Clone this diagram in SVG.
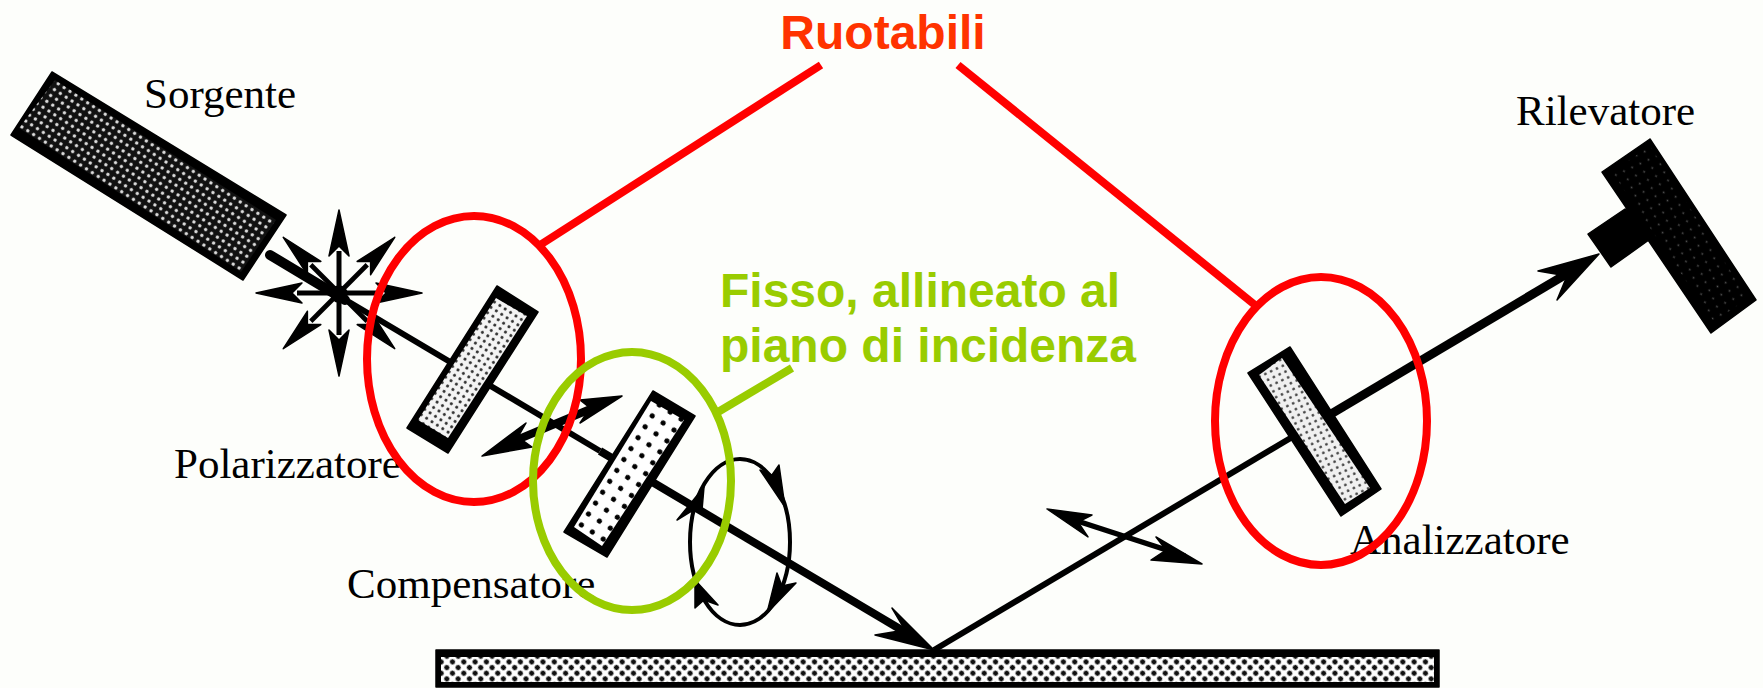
<svg xmlns="http://www.w3.org/2000/svg" width="1763" height="688" viewBox="0 0 1763 688">
<style>
.lbl{font-family:"Liberation Serif","Times New Roman",serif;font-size:43px;fill:#000}
.note{font-family:"Liberation Sans",Arial,sans-serif;font-size:48px;font-weight:bold}
.ring{fill:none;stroke-width:8}
.red{stroke:#ff0000}
.grn{stroke:#99cc00}
.beam{stroke:#000;fill:none}
.k{fill:#000;stroke:#000;stroke-width:1.5;stroke-linejoin:round}
</style>
<defs>
<pattern id="pSrc" width="7" height="7" patternUnits="userSpaceOnUse" patternTransform="rotate(33)"><rect width="7" height="7" fill="#111"/><circle cx="3.5" cy="3.5" r="1.7" fill="#ddd"/></pattern>
<pattern id="pLight" width="6.4" height="6.4" patternUnits="userSpaceOnUse" patternTransform="rotate(33)"><rect width="6.4" height="6.4" fill="#f4f4f4"/><circle cx="3.2" cy="3.2" r="1.5" fill="#333"/></pattern>
<pattern id="pAna" width="6.4" height="6.4" patternUnits="userSpaceOnUse" patternTransform="rotate(-25)"><rect width="6.4" height="6.4" fill="#f0f0f0"/><circle cx="3.2" cy="3.2" r="1.4" fill="#444"/></pattern>
<pattern id="pComp" width="13" height="13" patternUnits="userSpaceOnUse" patternTransform="rotate(33)"><rect width="13" height="13" fill="#fff"/><circle cx="6.5" cy="6.5" r="2.6" fill="#000"/></pattern>
<pattern id="pBar" width="8" height="8" patternUnits="userSpaceOnUse" patternTransform="rotate(45)"><rect width="8" height="8" fill="#fff"/><circle cx="4" cy="4" r="2.6" fill="#111"/></pattern>
<pattern id="pDet" width="9" height="9" patternUnits="userSpaceOnUse" patternTransform="rotate(-25)"><rect width="9" height="9" fill="#000"/><circle cx="4.5" cy="4.5" r="0.9" fill="#555"/></pattern>
<g id="ray"><polygon class="k" points="0,-83 10,-37 0,-47 -10,-37"/><line x1="0" y1="-42" x2="0" y2="0" stroke="#000" stroke-width="5"/></g>
</defs>
<rect id="background" width="1763" height="688" fill="#fdfefb"/>
<g id="labels">
<text class="lbl" x="144" y="108">Sorgente</text>
<text class="lbl" x="174" y="478">Polarizzatore</text>
<text class="lbl" x="347" y="598">Compensatore</text>
<text class="lbl" x="1350" y="554">Analizzatore</text>
<text class="lbl" x="1516" y="125">Rilevatore</text>
</g>
<g id="connectors">
<line class="beam" x1="270" y1="255" x2="345" y2="300" stroke-width="10" stroke-linecap="round"/>
<line class="beam" x1="339" y1="296" x2="600" y2="451" stroke-width="6"/>
<line class="beam" x1="600" y1="451" x2="905" y2="632" stroke-width="8"/>
<polygon class="k" points="934,650 892,608 905,630 875,635"/>
<line class="beam" x1="934" y1="650" x2="1331" y2="414" stroke-width="6"/>
<line class="beam" x1="1331" y1="414" x2="1575" y2="269" stroke-width="9"/>
<polygon class="k" points="1599,254 1538,271 1567,276 1557,300"/>
<ellipse class="beam" cx="740" cy="542" rx="50" ry="83" stroke-width="4"/>
<polygon class="k" points="785,507 779,465 772,475 760,470"/>
<polygon class="k" points="704,487 677,520 690,512 702,510"/>
<polygon class="k" points="767,613 777,573 782,586 796,583"/>
<polygon class="k" points="695,580 695,608 704,600 718,605"/>
<line class="beam" x1="500" y1="447" x2="600" y2="405" stroke-width="8"/>
<polygon class="k" points="622,396 580,400 590,408 580,423"/>
<polygon class="k" points="482,456 526,423 518,437 532,447"/>
<line class="beam" x1="1065" y1="517" x2="1185" y2="556" stroke-width="5.5"/>
<polygon class="k" points="1047,509 1092,515 1078,522 1088,537"/>
<polygon class="k" points="1202,564 1156,537 1166,550 1151,560"/>
</g>
<g id="star">
<use href="#ray" transform="translate(339,293)"/>
<use href="#ray" transform="translate(339,293) rotate(180)"/>
<use href="#ray" transform="translate(339,293) rotate(90)"/>
<use href="#ray" transform="translate(339,293) rotate(-90)"/>
<use href="#ray" transform="translate(339,293) rotate(45) scale(.95)"/>
<use href="#ray" transform="translate(339,293) rotate(135) scale(.95)"/>
<use href="#ray" transform="translate(339,293) rotate(-45) scale(.95)"/>
<use href="#ray" transform="translate(339,293) rotate(-135) scale(.95)"/>
<circle class="k" cx="339" cy="294" r="8"/>
</g>
<g id="sorgente">
<polygon class="k" points="52,72 11,135 243,280 286,215"/>
<polygon fill="url(#pSrc)" points="55,80 19,128 241,272 276,220"/>
</g>
<g id="polarizzatore">
<polygon class="k" points="497,286 538,312 448,453 407,428"/>
<polygon fill="url(#pLight)" points="496,298 527,316 448,438 418,420"/>
</g>
<g id="compensatore">
<polygon class="k" points="653,391 695,416 607,557 564,532"/>
<polygon fill="url(#pComp)" points="651,401 684,420 602,546 574,527"/>
</g>
<g id="analizzatore">
<polygon class="k" points="1290,347 1248,373 1341,516 1381,489"/>
<polygon fill="url(#pAna)" points="1282,358 1259,375 1345,504 1370,488"/>
</g>
<g id="rilevatore">
<polygon class="k" points="1650,139 1602,172 1711,333 1756,300"/>
<polygon class="k" points="1625,209 1588,234 1611,267 1660,232"/>
<polygon fill="url(#pDet)" points="1650,146 1612,172 1714,322 1748,298"/>
</g>
<g id="campione">
<rect class="k" x="436" y="650" width="1003" height="37"/>
<rect fill="url(#pBar)" x="441" y="657" width="993" height="25"/>
</g>
<g id="ruotabili">
<text class="note" x="883" y="49" text-anchor="middle" fill="#ff3300">Ruotabili</text>
<line class="ring red" x1="540" y1="245" x2="821" y2="65"/>
<line class="ring red" x1="958" y1="65" x2="1255" y2="305"/>
<ellipse class="ring red" cx="474" cy="359" rx="107" ry="143"/>
<ellipse class="ring red" cx="1321" cy="421" rx="106" ry="144"/>
</g>
<g id="fisso">
<text class="note" x="720" y="307" fill="#99cc00">Fisso, allineato al</text>
<text class="note" x="720" y="362" fill="#99cc00">piano di incidenza</text>
<line class="ring grn" x1="718" y1="412" x2="792" y2="368"/>
<ellipse class="ring grn" cx="632" cy="481" rx="99" ry="129"/>
</g>
</svg>
